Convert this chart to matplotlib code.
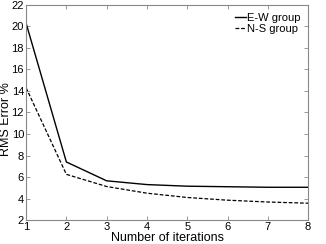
import matplotlib.pyplot as plt

plt.rcParams['font.family'] = ['Liberation Sans', 'DejaVu Sans']

iterations = [1, 2, 3, 4, 5, 6, 7, 8]
ew_error = [20.3, 7.4, 5.65, 5.3, 5.15, 5.1, 5.05, 5.05]
ns_error = [14.3, 6.25, 5.12, 4.5, 4.1, 3.85, 3.68, 3.57]

fig = plt.figure(figsize=(3.26, 2.44), dpi=100)
ax = fig.add_axes([0.08, 0.098, 0.865, 0.882])

ax.plot(iterations, ew_error, color="black", linewidth=1.0, label="E-W group")
ax.plot(iterations, ns_error, color="black", linewidth=0.9, linestyle=(0, (3, 1.5)),
        label="N-S group")

ax.set_xlim(1, 8)
ax.set_ylim(2, 22)
ax.set_xticks(range(1, 9))
ax.set_yticks(range(2, 23, 2))
ax.tick_params(direction="in", top=True, right=True, length=3, width=0.6,
               color="#888888", labelsize=8, pad=1.5)
for s in ax.spines.values():
    s.set_color("#888888")
    s.set_linewidth(0.8)

ax.set_xlabel("Number of iterations", fontsize=9, labelpad=0)
ax.set_ylabel("RMS Error %", fontsize=9, labelpad=0)
ax.yaxis.set_label_coords(-0.05, 0.47)

ax.legend(loc="upper right", frameon=False, fontsize=8, handlelength=1.0,
          handletextpad=0.1, labelspacing=0.15, borderaxespad=0.3)

fig.savefig("out.png", dpi=100)
